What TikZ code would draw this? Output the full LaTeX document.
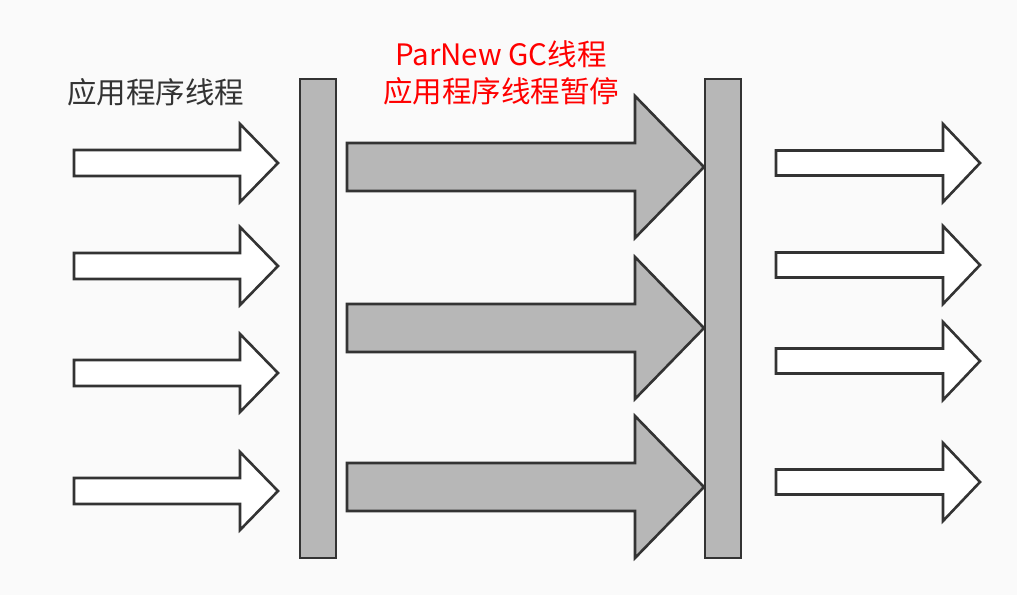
\documentclass[tikz,border=0pt]{standalone}
\usepackage{fontspec}
\newfontfamily\cjkfont{Noto Sans CJK SC}
\definecolor{bgc}{HTML}{FAFAFA}
\definecolor{edgec}{HTML}{333333}
\definecolor{grayc}{HTML}{B7B7B7}
\definecolor{textc}{HTML}{333333}
\definecolor{redc}{HTML}{FF0000}
\tikzset{
  outl/.style={draw=edgec, line width=2.6pt, line join=miter},
  whitearr/.style={outl, fill=white},
  grayarr/.style={outl, fill=grayc},
  barbox/.style={outl, fill=grayc, inner sep=0pt, minimum width=36pt, minimum height=479pt},
  lbl/.style={font=\cjkfont\fontsize{29.5pt}{37pt}\selectfont, inner sep=0pt},
}
% #1 style, #2 tail x, #3 head start x, #4 tip x, #5 centre y, #6 half shaft, #7 half head
\newcommand\fatarr[7]{\draw[#1] (#2,#5-#6) -- (#3,#5-#6) -- (#3,#5-#7) -- (#4,#5) -- (#3,#5+#7) -- (#3,#5+#6) -- (#2,#5+#6) -- cycle;}
\begin{document}
\begin{tikzpicture}[x=1pt,y=-1pt]
\fill[bgc] (0,0) rectangle (1017,595);
\useasboundingbox (0,0) rectangle (1017,595);
% bars
\node[barbox] (bar1) at (318,318.5) {};
\node[barbox] (bar2) at (723,318.5) {};
% left white arrows
\foreach \c in {163,266,373,491}{\fatarr{whitearr}{74}{240}{278}{\c}{13}{39}}
% right white arrows
\foreach \c in {163,265,361,482}{\fatarr{whitearr}{776}{943}{980}{\c}{12.5}{39}}
% big gray arrows
\foreach \c in {167,328,487}{\fatarr{grayarr}{347}{635}{704}{\c}{24}{71}}
% labels
\node[lbl, text=textc, anchor=west] (app) at (67,92) {应用程序线程};
\node[lbl, text=redc] (gc1) at (501,54) {ParNew GC线程};
\node[lbl, text=redc] (gc2) at (501,91) {应用程序线程暂停};
\end{tikzpicture}
\end{document}
